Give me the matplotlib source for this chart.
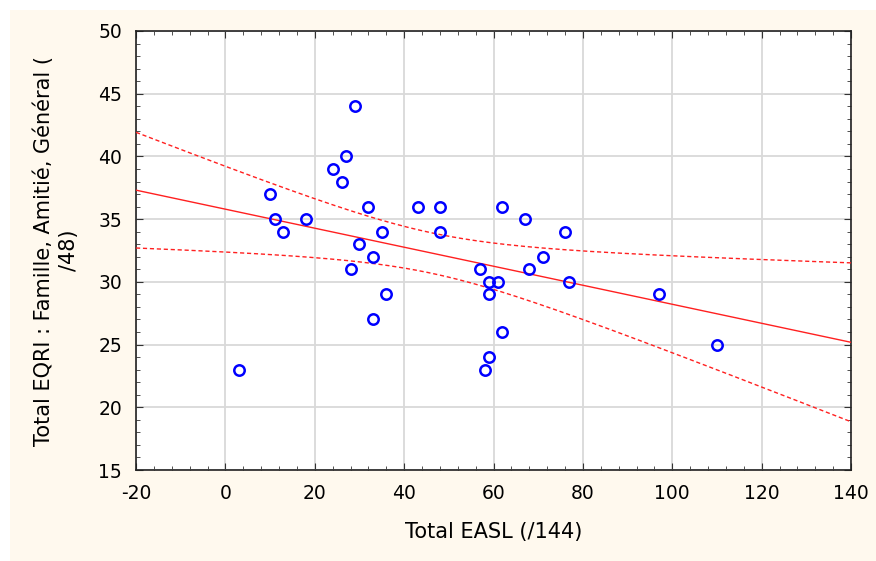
import numpy as np
import matplotlib.pyplot as plt
from matplotlib.patches import Rectangle
from matplotlib.ticker import MultipleLocator

# Total EASL (/144)
easl = [3, 10, 11, 13, 18, 24, 26, 27, 29, 28, 30, 32, 33, 33, 35, 36,
        43, 48, 48, 57, 58, 59, 59, 59, 61, 62, 62, 67, 68, 71, 76, 77, 97, 110]
# Total EQRI : Famille, Amitie, General (/48)
eqri = [23, 37, 35, 34, 35, 39, 38, 40, 44, 31, 33, 36, 32, 27, 34, 29,
        36, 36, 34, 31, 23, 24, 29, 30, 30, 36, 26, 35, 31, 32, 34, 30, 29, 25]

plt.rcParams['font.family'] = ['DejaVu Sans']
plt.rcParams['axes.unicode_minus'] = False

x = np.array(easl, dtype=float)
y = np.array(eqri, dtype=float)
n = len(x)

# droite de regression + intervalle de confiance 95%
b, a = np.polyfit(x, y, 1)
resid = y - (a + b * x)
s = np.sqrt(np.sum(resid ** 2) / (n - 2))
t_val = 2.037  # t(0.975, 32)
xx = np.linspace(-20, 140, 200)
yy = a + b * xx
se = s * np.sqrt(1 / n + (xx - x.mean()) ** 2 / np.sum((x - x.mean()) ** 2))

fig = plt.figure(figsize=(8.76, 5.61), dpi=100, facecolor='white')
fig.patches.append(Rectangle((10 / 876, 0), 1, 1 - 10 / 561, transform=fig.transFigure,
                             facecolor='#FFF9EE', edgecolor='none', zorder=-1))
ax = fig.add_axes([136 / 876, 1 - 470 / 561, 715 / 876, 439 / 561])
ax.set_facecolor('white')

ax.plot(xx, yy, color='#FF2020', lw=1.0, zorder=3)
ax.plot(xx, yy + t_val * se, color='#FF2020', lw=1.0, ls=(0, (3, 2)), zorder=3)
ax.plot(xx, yy - t_val * se, color='#FF2020', lw=1.0, ls=(0, (3, 2)), zorder=3)
ax.plot(x, y, 'o', mfc='none', mec='#0000FF', ms=7.5, mew=1.8, zorder=4)

ax.set_xlim(-20, 140)
ax.set_ylim(15, 50)
ax.xaxis.set_major_locator(MultipleLocator(20))
ax.xaxis.set_minor_locator(MultipleLocator(4))
ax.yaxis.set_major_locator(MultipleLocator(5))
ax.yaxis.set_minor_locator(MultipleLocator(1))
ax.grid(True, which='major', color='#D9D9D9', lw=1.3)
ax.set_axisbelow(True)
ax.tick_params(which='both', direction='in', top=True, right=True, color='#333333')
ax.tick_params(which='major', length=5, labelsize=13.5, pad=10)
ax.tick_params(which='minor', length=3)
for sp in ax.spines.values():
    sp.set_color('#222222')
    sp.set_linewidth(1.2)

ax.set_xlabel('Total EASL (/144)', fontsize=15, labelpad=14)
ax.set_ylabel('Total EQRI : Famille, Amitié, Général (\n/48)', fontsize=15,
              labelpad=14, linespacing=1.3)

fig.savefig('out.png', dpi=100, facecolor=fig.get_facecolor())
